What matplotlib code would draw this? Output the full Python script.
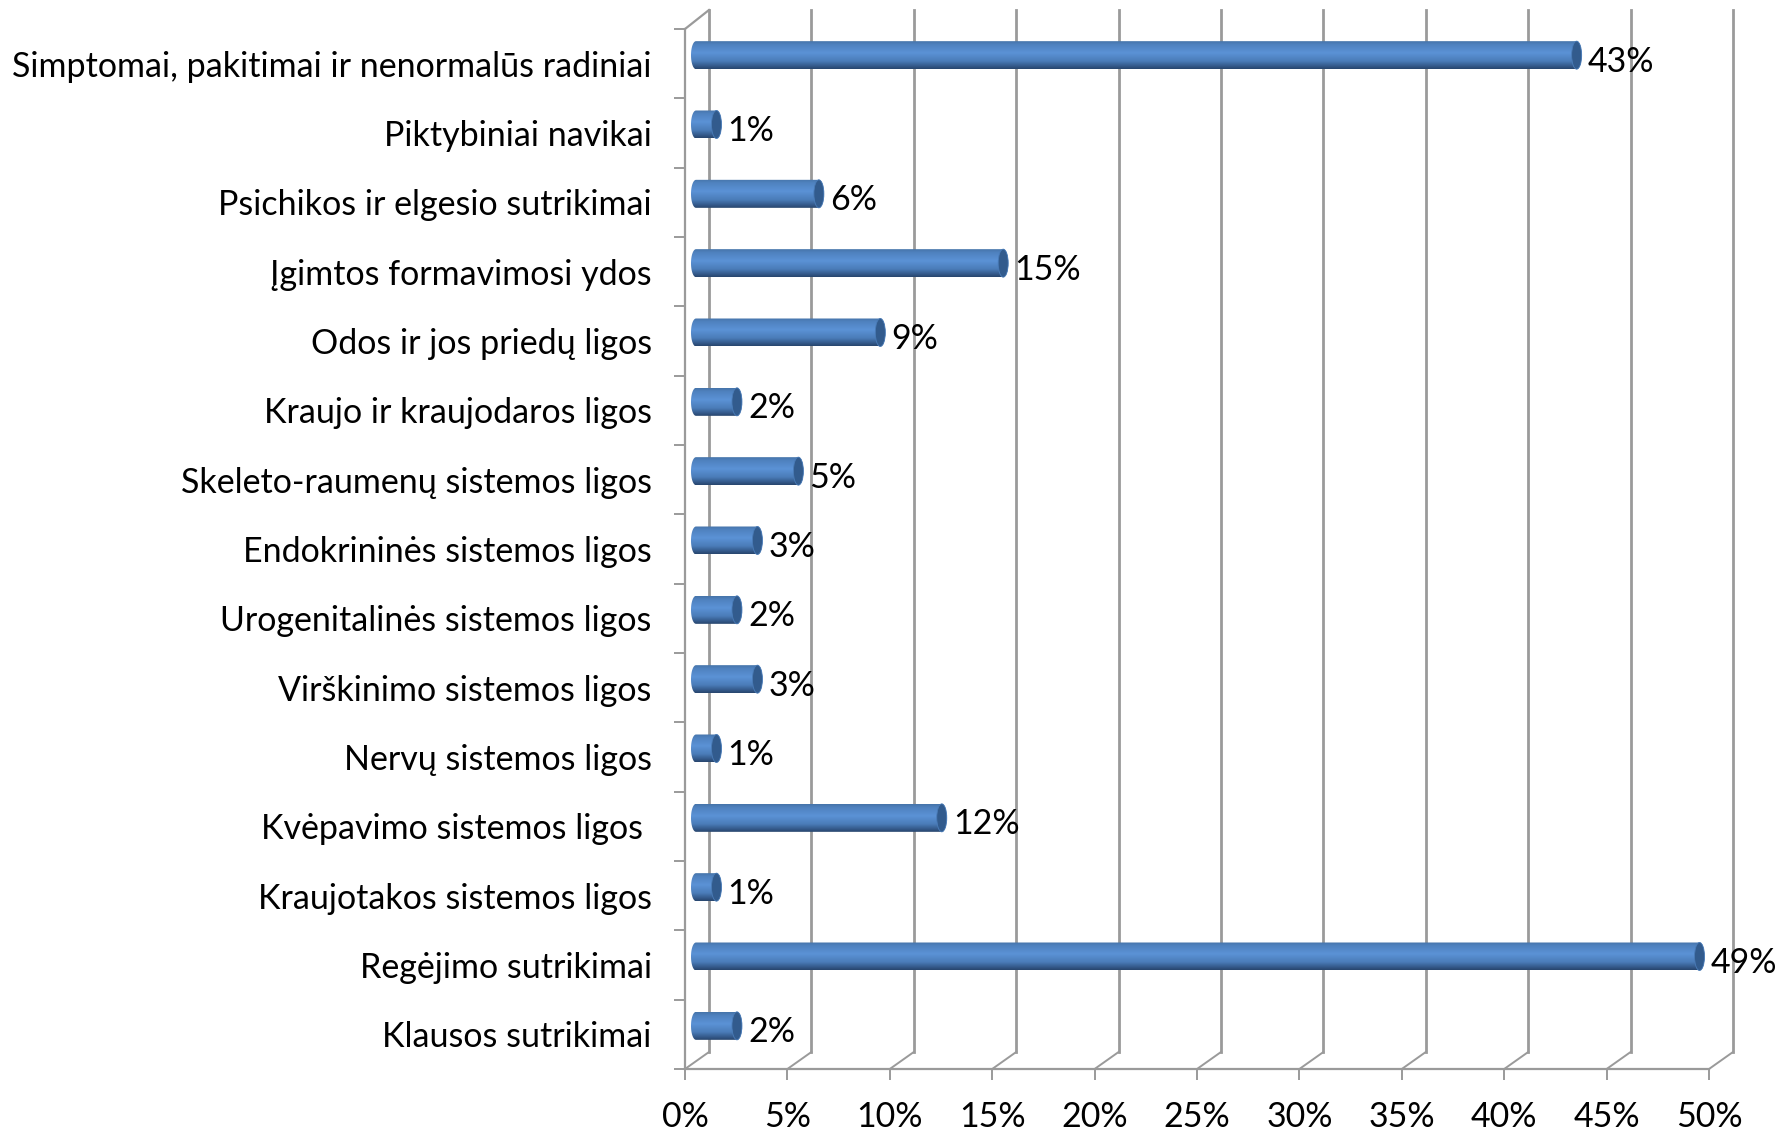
import numpy as np
import matplotlib
matplotlib.use('Agg')
import matplotlib.pyplot as plt
from matplotlib.colors import LinearSegmentedColormap
from matplotlib.patches import Ellipse, PathPatch
from matplotlib.path import Path

categories = ['Simptomai, pakitimai ir nenormalūs radiniai', 'Piktybiniai navikai',
              'Psichikos ir elgesio sutrikimai', 'Įgimtos formavimosi ydos',
              'Odos ir jos priedų ligos', 'Kraujo ir kraujodaros ligos',
              'Skeleto-raumenų sistemos ligos', 'Endokrininės sistemos ligos',
              'Urogenitalinės sistemos ligos', 'Virškinimo sistemos ligos',
              'Nervų sistemos ligos', 'Kvėpavimo sistemos ligos ',
              'Kraujotakos sistemos ligos', 'Regėjimo sutrikimai', 'Klausos sutrikimai']
values = [43, 1, 6, 15, 9, 2, 5, 3, 2, 3, 1, 12, 1, 49, 2]
x_ticks = [0, 5, 10, 15, 20, 25, 30, 35, 40, 45, 50]

W, H = 1779, 1133
plt.rcParams['font.family'] = ['Lato', 'DejaVu Sans']
GRID = '#9a9a9a'
FS = 24.5

fig = plt.figure(figsize=(W / 100, H / 100), dpi=100)
ax = fig.add_axes([685 / W, 1 - 1069 / H, (1709 - 685) / W, (1069 - 29) / H])

# px -> data
sx = 50 / (1709 - 685)
sy = 15 / (1069 - 29)
depth_x = 24 * sx
depth_y = 17 * sy
top_y = 19 * sy
n = len(categories)

# back wall lines and floor diagonals
for t in x_ticks:
    ax.plot([t + depth_x, t + depth_x], [-top_y, n - depth_y], color=GRID, lw=2.0, zorder=1, clip_on=False)
    ax.plot([t, t + depth_x], [n, n - depth_y], color=GRID, lw=1.4, zorder=1, clip_on=False)
ax.plot([0, depth_x], [0, -top_y], color=GRID, lw=1.6, zorder=1, clip_on=False)
ax.plot([0, 0], [0, n], color=GRID, lw=1.6, zorder=1, clip_on=False)
ax.plot([0, 50], [n, n], color=GRID, lw=1.6, zorder=1, clip_on=False)

# cylinders
cmap = LinearSegmentedColormap.from_list('cyl', [(0, '#4674aa'), (0.12, '#4f82bf'), (0.42, '#5b92d6'),
                                                 (0.72, '#4a7cb8'), (0.9, '#34598a'), (1, '#28466e')])
shade = np.linspace(0, 1, 64).reshape(-1, 1)
bar_x0 = 11 * sx
bar_h = 28 * sy
bar_up = 8.5 * sy
cap_w = 5 * sx
theta = np.linspace(-np.pi / 2, np.pi / 2, 30)
for i, v in enumerate(values):
    yc = i + 0.5 - bar_up
    x1 = bar_x0 + v
    # outline of the tube: round on both ends
    right = np.column_stack([x1 + cap_w * np.cos(theta), yc + bar_h / 2 * np.sin(theta)])
    left = np.column_stack([bar_x0 - cap_w * np.cos(theta[::-1]), yc + bar_h / 2 * np.sin(theta[::-1])])
    outline = PathPatch(Path(np.vstack([right, left, right[:1]])), transform=ax.transData,
                        facecolor='none', edgecolor='none')
    ax.add_patch(outline)
    im = ax.imshow(shade, cmap=cmap, aspect='auto', zorder=3,
                   extent=[bar_x0 - cap_w, x1 + cap_w, yc + bar_h / 2, yc - bar_h / 2])
    im.set_clip_path(outline)
    ax.add_patch(Ellipse((x1, yc), 2 * cap_w, bar_h, facecolor='#325b8d', edgecolor='#4a7cb8',
                         lw=0.6, zorder=4, clip_on=False))
    ax.annotate('%d%%' % v, xy=(x1, i + 0.5), xytext=(11, 2), textcoords='offset pixels',
                ha='left', va='center', fontsize=FS, color='black', zorder=5, annotation_clip=False)

ax.set_xlim(0, 50)
ax.set_ylim(n, 0)
for s in ax.spines.values():
    s.set_visible(False)
ax.patch.set_visible(False)

ax.set_xticks(x_ticks)
ax.set_xticklabels(['%d%%' % t for t in x_ticks], fontsize=FS)
ax.tick_params(axis='x', length=8, width=1.4, color=GRID, pad=15)
ax.set_yticks(np.arange(n + 1))
ax.set_yticklabels([])
ax.tick_params(axis='y', which='major', length=8, width=1.4, color=GRID)
ax.set_yticks(np.arange(n) + 0.5, minor=True)
ax.set_yticklabels(categories, minor=True, fontsize=FS)
ax.tick_params(axis='y', which='minor', length=0, pad=24)

fig.savefig('out.png', dpi=100)
